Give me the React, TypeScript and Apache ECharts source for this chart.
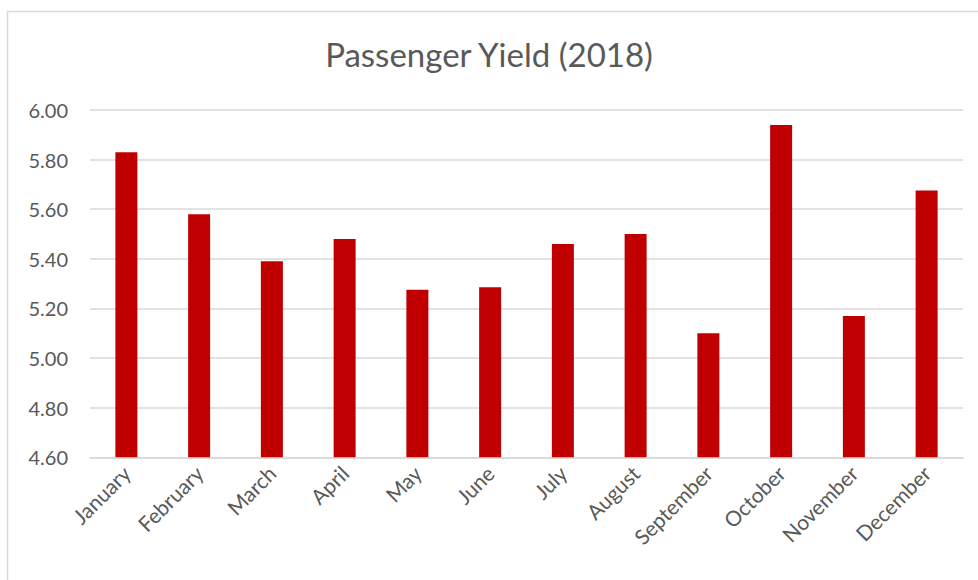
import React, { useEffect, useRef } from "react";
import * as echarts from "echarts";

const months = [
  "January", "February", "March", "April", "May", "June",
  "July", "August", "September", "October", "November", "December",
];
const yieldValues = [5.83, 5.58, 5.39, 5.48, 5.275, 5.285, 5.46, 5.5, 5.1, 5.94, 5.17, 5.675];
const yMin = 4.6;
const yMax = 6.0;
const yStep = 0.2;
const titleText = "Passenger Yield (2018)";

export default function App() {
  const ref = useRef<HTMLDivElement>(null);
  useEffect(() => {
    document.body.style.margin = "0";
    const chart = echarts.init(ref.current!, null, { renderer: "svg" });
    const font = "Lato, 'Open Sans', sans-serif";
    chart.setOption({
      animation: false,
      backgroundColor: "#ffffff",
      textStyle: { fontFamily: font },
      title: {
        text: titleText,
        left: "center",
        top: 32,
        textStyle: { color: "#595959", fontSize: 33, fontWeight: "normal", fontFamily: font },
      },
      graphic: [
        {
          type: "rect",
          shape: { x: 7.5, y: 11.5, width: 1000, height: 700 },
          style: { fill: "none", stroke: "#D9D9D9", lineWidth: 1.5 },
          silent: true,
        },
      ],
      grid: { left: 90, right: 15, top: 110, bottom: 122.7 },
      xAxis: {
        type: "category",
        data: months,
        axisLine: { show: true, lineStyle: { color: "#D9D9D9", width: 1.5 } },
        axisTick: { show: false },
        axisLabel: {
          rotate: 45,
          color: "#595959",
          fontSize: 21,
          fontFamily: font,
          margin: 12,
          interval: 0,
        },
      },
      yAxis: {
        type: "value",
        min: yMin,
        max: yMax,
        interval: yStep,
        axisLine: { show: false },
        axisTick: { show: false },
        splitLine: { lineStyle: { color: "#D9D9D9", width: 1.5 } },
        axisLabel: {
          color: "#595959",
          fontSize: 20,
          fontFamily: font,
          margin: 22,
          formatter: (v: number) => v.toFixed(2),
        },
      },
      series: [
        {
          type: "bar",
          data: yieldValues,
          barWidth: 22,
          itemStyle: { color: "#C00000" },
        },
      ],
    });
    return () => chart.dispose();
  }, []);
  return <div ref={ref} style={{ width: 978, height: 580 }} />;
}
